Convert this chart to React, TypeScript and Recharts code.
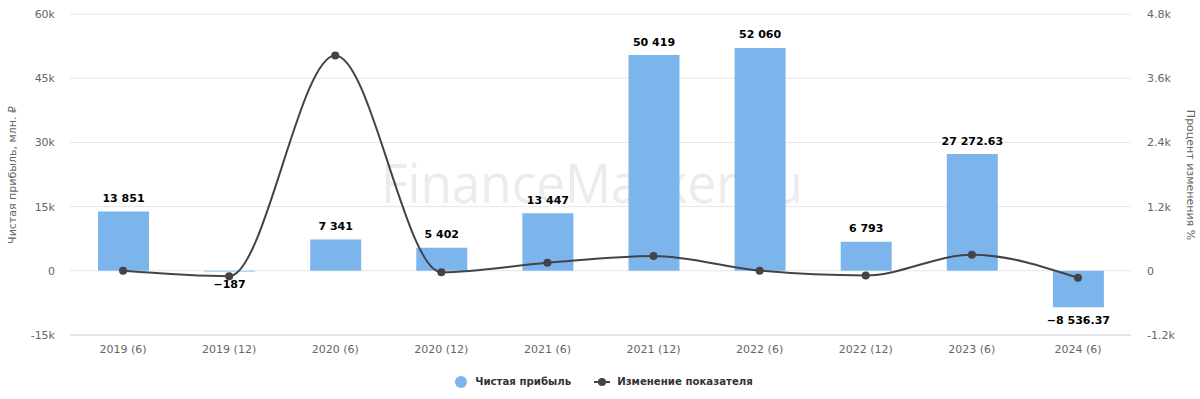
import {
  ComposedChart,
  Bar,
  Line,
  XAxis,
  YAxis,
  CartesianGrid,
  LabelList,
} from 'recharts'

const periods = [
  '2019 (6)',
  '2019 (12)',
  '2020 (6)',
  '2020 (12)',
  '2021 (6)',
  '2021 (12)',
  '2022 (6)',
  '2022 (12)',
  '2023 (6)',
  '2024 (6)',
]
const netProfit = [13851, -187, 7341, 5402, 13447, 50419, 52060, 6793, 27272.63, -8536.37]
const changePct = [0, -101, 4025, -26, 149, 275, 3, -87, 301, -131]

const leftTicks = [-15000, 0, 15000, 30000, 45000, 60000]
const rightTicks = [-1200, 0, 1200, 2400, 3600, 4800]

const FONT = '"DejaVu Sans", Verdana, sans-serif'

const data = periods.map((p, i) => ({
  period: p,
  profit: netProfit[i],
  change: changePct[i],
}))

function fmtK(v: number) {
  if (v === 0) return '0'
  return `${v < 0 ? '-' : ''}${Math.abs(v) / 1000}k`
}

function fmtNum(v: number) {
  const neg = v < 0
  const [int, dec] = Math.abs(v).toString().split('.')
  const grouped = int.replace(/\B(?=(\d{3})+(?!\d))/g, ' ')
  return `${neg ? '−' : ''}${grouped}${dec ? '.' + dec : ''}`
}

function BarLabel(props: any) {
  const { x, y, width, height, value } = props
  const top = Math.min(y, y + height)
  const bottom = Math.max(y, y + height)
  const cy = value < 0 ? bottom + 13 : top - 13
  return (
    <text
      x={x + width / 2}
      y={cy}
      textAnchor="middle"
      dominantBaseline="central"
      fontFamily={FONT}
      fontSize={11}
      fontWeight="bold"
      fill="#000"
    >
      {fmtNum(value)}
    </text>
  )
}

function LegendBox() {
  return (
    <div
      style={{
        position: 'absolute',
        top: 375,
        left: 4,
        width: 1200,
        display: 'flex',
        justifyContent: 'center',
        alignItems: 'center',
        fontFamily: FONT,
        fontSize: 10.2,
        fontWeight: 'bold',
        color: '#333',
        gap: 23,
        lineHeight: '14px',
      }}
    >
      <span style={{ display: 'flex', alignItems: 'center', gap: 8 }}>
        <svg width={12} height={12}>
          <circle cx={6} cy={6} r={6} fill="#7cb5ec" />
        </svg>
        Чистая прибыль
      </span>
      <span style={{ display: 'flex', alignItems: 'center', gap: 7 }}>
        <svg width={16} height={12}>
          <line x1={0} y1={6} x2={16} y2={6} stroke="#434348" strokeWidth={2} />
          <circle cx={8} cy={6} r={4} fill="#434348" />
        </svg>
        Изменение показателя
      </span>
    </div>
  )
}

export default function App() {
  return (
    <div style={{ position: 'absolute', top: 0, left: 0, width: 1200, height: 399, background: '#fff' }}>
      <svg
        width={1200}
        height={399}
        style={{ position: 'absolute', top: 0, left: 0, pointerEvents: 'none' }}
      >
        <text
          x={592}
          y={203}
          textAnchor="middle"
          fontFamily='"Open Sans", sans-serif'
          fontSize={55}
          textLength={422}
          lengthAdjust="spacingAndGlyphs"
          fill="#ececec"
        >
          FinanceMarker.ru
        </text>
        <text
          x={12}
          y={175}
          transform="rotate(-90 12 175)"
          textAnchor="middle"
          dominantBaseline="central"
          fontFamily={FONT}
          fontSize={11}
          fill="#666"
        >
          Чистая прибыль, млн. ₽
        </text>
        <text
          x={1190}
          y={175}
          transform="rotate(90 1190 175)"
          textAnchor="middle"
          dominantBaseline="central"
          fontFamily={FONT}
          fontSize={11}
          fill="#666"
        >
          Процент изменения %
        </text>
      </svg>
      <div style={{ position: 'absolute', top: 0, left: 0 }}>
        <ComposedChart
          width={1200}
          height={399}
          data={data}
          margin={{ top: 14, right: 0, bottom: 34, left: 0 }}
          barSize={51}
        >
          <CartesianGrid vertical={false} stroke="#e6e6e6" yAxisId="left" />
          <XAxis
            dataKey="period"
            axisLine={{ stroke: '#ccd6eb' }}
            tickLine={false}
            tickSize={0}
            tickMargin={10}
            height={30}
            tick={{ fill: '#666', fontSize: 11, fontFamily: FONT }}
          />
          <YAxis
            yAxisId="left"
            width={70}
            domain={[-15000, 60000]}
            ticks={leftTicks}
            tickFormatter={fmtK}
            axisLine={false}
            tickLine={false}
            tickSize={0}
            tickMargin={15}
            tick={{ fill: '#666', fontSize: 11, fontFamily: FONT }}
          />
          <YAxis
            yAxisId="right"
            orientation="right"
            width={69}
            domain={[-1200, 4800]}
            ticks={rightTicks}
            tickFormatter={fmtK}
            axisLine={false}
            tickLine={false}
            tickSize={0}
            tickMargin={16}
            tick={{ fill: '#666', fontSize: 11, fontFamily: FONT, textAnchor: 'start' }}
          />
          <Bar yAxisId="left" dataKey="profit" fill="#7cb5ec" isAnimationActive={false}>
            <LabelList dataKey="profit" content={<BarLabel />} />
          </Bar>
          <Line
            yAxisId="right"
            type="monotone"
            dataKey="change"
            stroke="#434348"
            strokeWidth={2}
            dot={{ r: 4, fill: '#434348', stroke: '#434348', strokeWidth: 0 }}
            isAnimationActive={false}
          />
        </ComposedChart>
      </div>
      <LegendBox />
    </div>
  )
}
